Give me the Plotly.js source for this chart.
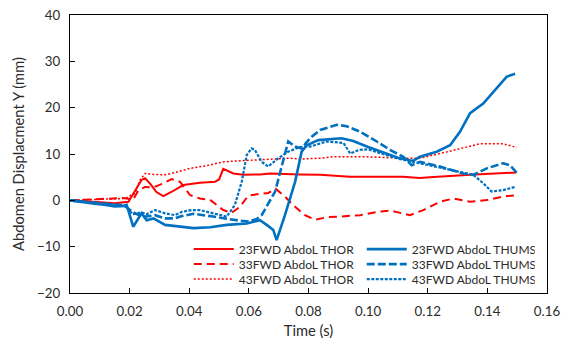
<!DOCTYPE html>
<html>
<head>
<meta charset="utf-8">
<script src="https://cdn.plot.ly/plotly-3.0.1.min.js"></script>
<style>
  html, body { margin: 0; padding: 0; background: #fff; }
  #chart { width: 571px; height: 348px; }
</style>
</head>
<body>
<div id="chart"></div>
<script>
// Abdomen lateral displacement, THOR vs THUMS, three load cases

// 23FWD AbdoL THOR
const t23Thor = [0, 0.005, 0.010, 0.015, 0.0196, 0.0218, 0.024, 0.0252, 0.027, 0.029, 0.0313, 0.034, 0.038, 0.0436, 0.0486, 0.050, 0.0514, 0.0548, 0.0581, 0.0637, 0.0671, 0.0771, 0.0839, 0.0939, 0.1117, 0.1174, 0.1207, 0.1342, 0.1498];
const y23Thor = [0, -0.2, -0.4, -0.65, -0.3, 2.2, 4.4, 4.75, 3.5, 1.8, 0.9, 1.8, 3.3, 3.8, 4.0, 4.5, 6.8, 5.8, 5.5, 5.6, 5.8, 5.6, 5.5, 5.1, 5.1, 4.8, 5.0, 5.5, 6.0];

// 33FWD AbdoL THOR
const t33Thor = [0, 0.005, 0.010, 0.015, 0.0178, 0.0212, 0.023, 0.0252, 0.028, 0.031, 0.0341, 0.0369, 0.0403, 0.0436, 0.047, 0.0514, 0.0542, 0.057, 0.0598, 0.0637, 0.0665, 0.069, 0.0721, 0.0755, 0.0788, 0.0822, 0.0866, 0.0906, 0.0973, 0.1029, 0.1073, 0.114, 0.1185, 0.1241, 0.1286, 0.1342, 0.1398, 0.1453, 0.1493];
const y33Thor = [0, 0.1, 0.2, 0.4, 0.5, 0.2, 2.2, 2.9, 2.8, 3.6, 4.6, 4.0, 1.1, 0.4, 0.1, -2.1, -2.7, -1.4, 1.0, 1.4, 1.6, 2.5, 0.8, -1.4, -3.2, -4.2, -3.6, -3.5, -3.2, -2.5, -2.2, -3.2, -2.1, -0.3, 0.4, -0.3, 0.06, 0.8, 1.1];

// 43FWD AbdoL THOR
const t43Thor = [0, 0.005, 0.010, 0.015, 0.0184, 0.0196, 0.0218, 0.0235, 0.0252, 0.028, 0.0319, 0.0353, 0.0386, 0.0403, 0.046, 0.0514, 0.056, 0.0615, 0.068, 0.0738, 0.0771, 0.0839, 0.0883, 0.0995, 0.1107, 0.1174, 0.1241, 0.1308, 0.1375, 0.1453, 0.1498];
const y43Thor = [0, 0.1, 0.2, 0.3, 0.4, 0.8, 1.5, 4.4, 5.8, 5.6, 5.5, 6.0, 6.7, 6.9, 7.5, 8.3, 8.5, 8.7, 8.9, 9.1, 8.9, 9.1, 9.4, 9.4, 9.1, 9.1, 10.1, 11.2, 12.2, 12.2, 11.4];

// 23FWD AbdoL THUMS
const t23Thums = [0, 0.003, 0.006, 0.009, 0.012, 0.015, 0.0184, 0.019, 0.0212, 0.024, 0.0257, 0.028, 0.0319, 0.0363, 0.0414, 0.047, 0.0526, 0.0593, 0.0637, 0.066, 0.0682, 0.0693, 0.0721, 0.0755, 0.0777, 0.0794, 0.0833, 0.0911, 0.095, 0.100, 0.105, 0.110, 0.115, 0.1174, 0.123, 0.1275, 0.1308, 0.1342, 0.1386, 0.142, 0.1465, 0.1493];
const y23Thums = [0, -0.3, -0.5, -0.8, -1.0, -1.3, -1.2, -1.0, -5.7, -2.8, -4.3, -3.9, -5.3, -5.7, -6.0, -5.8, -5.3, -5.0, -4.3, -5.3, -6.4, -8.6, -3.2, 4.0, 10.5, 11.9, 13.0, 13.4, 12.8, 11.5, 10.3, 9.2, 8.5, 9.4, 10.5, 11.9, 14.8, 18.8, 20.9, 23.5, 26.7, 27.3];

// 33FWD AbdoL THUMS
const t33Thums = [0, 0.003, 0.006, 0.009, 0.012, 0.015, 0.0184, 0.021, 0.024, 0.0257, 0.0285, 0.0319, 0.0352, 0.0375, 0.0414, 0.048, 0.0526, 0.057, 0.060, 0.0627, 0.0643, 0.0688, 0.0732, 0.0755, 0.0777, 0.0805, 0.0839, 0.0889, 0.0895, 0.0928, 0.0973, 0.1029, 0.1073, 0.1118, 0.1146, 0.1174, 0.1241, 0.1319, 0.1353, 0.1398, 0.1453, 0.1475, 0.1498];
const y33Thums = [0, -0.2, -0.4, -0.6, -0.8, -1.0, -1.2, -2.5, -3.5, -3.5, -3.2, -3.9, -3.9, -3.4, -2.9, -3.5, -4.0, -4.4, -4.6, -4.0, -3.2, 1.9, 12.7, 11.6, 11.2, 13.4, 15.2, 16.1, 16.3, 16.0, 14.8, 12.7, 10.9, 9.4, 7.6, 8.3, 7.3, 5.8, 5.5, 6.9, 8.0, 7.6, 6.0];

// 43FWD AbdoL THUMS
const t43Thums = [0, 0.003, 0.006, 0.009, 0.012, 0.015, 0.0184, 0.021, 0.024, 0.0257, 0.0285, 0.0319, 0.0352, 0.0375, 0.0408, 0.0436, 0.048, 0.0526, 0.0553, 0.0576, 0.0593, 0.0609, 0.062, 0.0643, 0.0665, 0.0699, 0.0732, 0.0771, 0.0805, 0.0861, 0.0917, 0.094, 0.097, 0.100, 0.105, 0.110, 0.1174, 0.1286, 0.1353, 0.1386, 0.1414, 0.1453, 0.1493];
const y43Thums = [0, -0.2, -0.3, -0.5, -0.7, -0.9, -1.0, -3.0, -2.6, -3.0, -2.1, -2.8, -3.2, -2.5, -2.1, -2.1, -2.8, -3.5, -1.0, 4.0, 9.8, 11.2, 10.9, 8.3, 7.3, 9.1, 10.5, 11.5, 11.6, 12.7, 12.4, 10.1, 10.9, 11.0, 10.0, 9.0, 8.0, 6.5, 5.5, 3.7, 1.9, 2.2, 2.9];

// Axis ticks
const xTicks = [0, 0.02, 0.04, 0.06, 0.08, 0.10, 0.12, 0.14, 0.16];
const xTickText = ['0.00', '0.02', '0.04', '0.06', '0.08', '0.10', '0.12', '0.14', '0.16'];
const yTicks = [-20, -10, 0, 10, 20, 30, 40];

const RED = '#ff0000';
const BLUE = '#0070c0';
const FONT = 'Lato, "Open Sans", sans-serif';
const TEXT = '#2b2b2b';

function series(name, x, y, color, width, dash, legend) {
  return {
    type: 'scatter', mode: 'lines', name: name, x: x, y: y,
    line: { color: color, width: width, dash: dash },
    legend: legend
  };
}

// one legend row per load case: THOR entry on the left, THUMS entry on the right
const data = [
  series('23FWD AbdoL THOR', t23Thor, y23Thor, RED, 2, 'solid', 'legend'),
  series('33FWD AbdoL THOR', t33Thor, y33Thor, RED, 2, '8px,5px', 'legend2'),
  series('43FWD AbdoL THOR', t43Thor, y43Thor, RED, 1.5, '2px,2px', 'legend3'),
  series('23FWD AbdoL THUMS', t23Thums, y23Thums, BLUE, 2.6, 'solid', 'legend'),
  series('33FWD AbdoL THUMS', t33Thums, y33Thums, BLUE, 2.6, '8px,3px', 'legend2'),
  series('43FWD AbdoL THUMS', t43Thums, y43Thums, BLUE, 2.2, '3px,1.5px', 'legend3')
];

function legendRow(y) {
  return {
    orientation: 'h', x: 0.249, xanchor: 'left', y: y, yanchor: 'middle',
    bgcolor: 'rgba(0,0,0,0)', borderwidth: 0,
    font: { family: FONT, size: 12, color: TEXT },
    itemwidth: 40, entrywidth: 118, entrywidthmode: 'pixels', traceorder: 'normal'
  };
}

const layout = {
  width: 571, height: 348,
  margin: { l: 70, r: 24, t: 15, b: 55 },
  paper_bgcolor: '#fff', plot_bgcolor: '#fff',
  font: { family: FONT, size: 13.3, color: TEXT },
  showlegend: true,
  legend: legendRow(0.158),
  legend2: legendRow(0.104),
  legend3: legendRow(0.050),
  xaxis: {
    range: [0, 0.16], tickvals: xTicks, ticktext: xTickText,
    ticks: 'inside', ticklen: 5, tickcolor: '#000', tickwidth: 1,
    showline: true, linecolor: '#000', linewidth: 1.2, mirror: true,
    showgrid: false, zeroline: false, ticklabelstandoff: 6,
    tickfont: { family: FONT, size: 13.3, color: TEXT },
    title: { text: 'Time (s)', font: { family: FONT, size: 14.7, color: TEXT }, standoff: 7 }
  },
  yaxis: {
    range: [-20, 40], tickvals: yTicks,
    ticks: 'inside', ticklen: 5, tickcolor: '#000', tickwidth: 1,
    showline: true, linecolor: '#000', linewidth: 1.2, mirror: true,
    showgrid: false, zeroline: false, ticklabelstandoff: 6,
    tickfont: { family: FONT, size: 13.3, color: TEXT },
    title: { text: 'Abdomen Displacment Y (mm)', font: { family: FONT, size: 14.7, color: TEXT }, standoff: 8 }
  }
};

Plotly.newPlot('chart', data, layout, { staticPlot: true, displayModeBar: false });
</script>
</body>
</html>
